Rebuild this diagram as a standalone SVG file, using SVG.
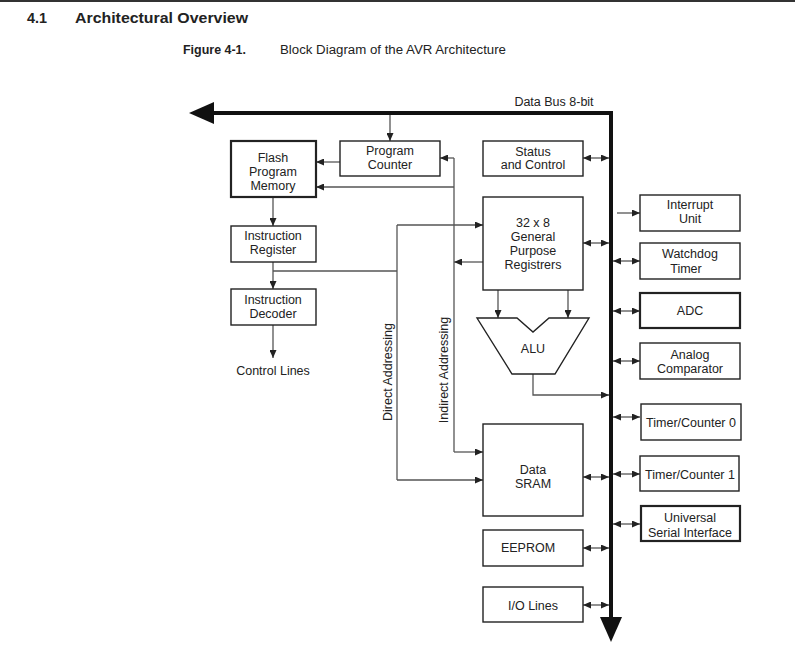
<svg xmlns="http://www.w3.org/2000/svg" width="795" height="649" viewBox="0 0 795 649">
<defs>
<style>
text{font-family:"Liberation Sans",Arial,sans-serif;font-size:12.5px;fill:#222;text-anchor:middle}
.box{fill:#fff;stroke:#222;stroke-width:1.4}
.thick{stroke-width:2.2}
.c{fill:none;stroke:#555;stroke-width:1.3}
.ah{marker-end:url(#a)}
.dh{marker-end:url(#a);marker-start:url(#a)}
</style>
<marker id="a" viewBox="0 0 8 7" refX="8" refY="3.5" markerWidth="8" markerHeight="7" markerUnits="userSpaceOnUse" orient="auto-start-reverse">
<path d="M0,0 L8,3.5 L0,7 z" fill="#222"/>
</marker>
</defs>
<rect width="795" height="649" fill="#fff"/>
<line x1="0" y1="1" x2="795" y2="1" stroke="#333" stroke-width="2"/>
<text x="27" y="23" style="font-size:15.5px;font-weight:bold;text-anchor:start" textLength="20" lengthAdjust="spacingAndGlyphs">4.1</text>
<text x="75" y="23" style="font-size:15.5px;font-weight:bold;text-anchor:start" textLength="173" lengthAdjust="spacingAndGlyphs">Architectural Overview</text>
<text x="183" y="54" style="font-weight:bold;text-anchor:start" textLength="63" lengthAdjust="spacingAndGlyphs">Figure 4-1.</text>
<text x="280" y="54" style="text-anchor:start" textLength="226" lengthAdjust="spacingAndGlyphs">Block Diagram of the AVR Architecture</text>

<g id="bus">
<polyline points="212,113 611,113 611,620" fill="none" stroke="#111" stroke-width="4"/>
<polygon points="189,113 214,102 214,124" fill="#111"/>
<polygon points="611,642 600,617 622,617" fill="#111"/>
<text x="554" y="106">Data Bus 8-bit</text>
</g>

<g id="connectors">
<line class="c ah" x1="390" y1="115" x2="390" y2="141"/>
<line class="c ah" x1="340" y1="162" x2="316" y2="162"/>
<line class="c ah" x1="483" y1="262" x2="454" y2="262"/>
<line class="c" x1="454" y1="158" x2="454" y2="452"/>
<line class="c ah" x1="454" y1="158" x2="440" y2="158"/>
<line class="c ah" x1="454" y1="187" x2="316" y2="187"/>
<line class="c ah" x1="454" y1="452" x2="483" y2="452"/>
<line class="c ah" x1="273" y1="197" x2="273" y2="226"/>
<line class="c ah" x1="273" y1="262" x2="273" y2="289"/>
<polyline class="c" points="273,271 397,271"/>
<line class="c" x1="397" y1="225" x2="397" y2="480"/>
<line class="c ah" x1="397" y1="225" x2="483" y2="225"/>
<line class="c ah" x1="397" y1="480" x2="483" y2="480"/>
<line class="c ah" x1="273" y1="325" x2="273" y2="358"/>
<line class="c dh" x1="583" y1="158" x2="609" y2="158"/>
<line class="c dh" x1="583" y1="243" x2="609" y2="243"/>
<line class="c ah" x1="498" y1="290" x2="498" y2="318"/>
<line class="c ah" x1="568" y1="290" x2="568" y2="318"/>
<polyline class="c ah" points="533,374 533,395 609,395"/>
<line class="c dh" x1="583" y1="477" x2="609" y2="477"/>
<line class="c dh" x1="583" y1="548" x2="609" y2="548"/>
<line class="c dh" x1="583" y1="605" x2="609" y2="605"/>
<line class="c ah" x1="617" y1="213" x2="640" y2="213"/>
<line class="c dh" x1="613" y1="261" x2="640" y2="261"/>
<line class="c dh" x1="613" y1="311" x2="640" y2="311"/>
<line class="c dh" x1="613" y1="361" x2="640" y2="361"/>
<line class="c dh" x1="613" y1="417" x2="640" y2="417"/>
<line class="c dh" x1="613" y1="474" x2="640" y2="474"/>
<line class="c dh" x1="613" y1="524" x2="640" y2="524"/>
<text x="392" y="372" transform="rotate(-90 392 372)">Direct Addressing</text>
<text x="448" y="370" transform="rotate(-90 448 370)">Indirect Addressing</text>
<text x="273" y="375">Control Lines</text>
</g>

<g id="program-counter"><rect class="box" x="340" y="141" width="100" height="35"/><text x="390" y="155">Program</text><text x="390" y="169">Counter</text></g>
<g id="flash"><rect class="box thick" x="231" y="141" width="85" height="56"/><text x="273" y="162">Flash</text><text x="273" y="176">Program</text><text x="273" y="190">Memory</text></g>
<g id="instruction-register"><rect class="box" x="231" y="226" width="85" height="36"/><text x="273" y="240">Instruction</text><text x="273" y="254">Register</text></g>
<g id="instruction-decoder"><rect class="box" x="231" y="289" width="85" height="36"/><text x="273" y="304">Instruction</text><text x="273" y="318">Decoder</text></g>
<g id="status"><rect class="box" x="483" y="141" width="100" height="35"/><text x="533" y="156">Status</text><text x="533" y="169">and Control</text></g>
<g id="registers"><rect class="box" x="483" y="197" width="100" height="93"/><text x="533" y="227">32 x 8</text><text x="533" y="241">General</text><text x="533" y="255">Purpose</text><text x="533" y="269">Registrers</text></g>
<g id="alu"><polygon class="box" points="477,318 517,318 533,332 549,318 589,318 555,374 512,374"/><text x="533" y="353">ALU</text></g>
<g id="sram"><rect class="box" x="483" y="424" width="100" height="92"/><text x="533" y="474">Data</text><text x="533" y="488">SRAM</text></g>
<g id="eeprom"><rect class="box" x="483" y="530" width="100" height="36"/><text x="528" y="552">EEPROM</text></g>
<g id="io-lines"><rect class="box" x="483" y="587" width="100" height="35"/><text x="533" y="610">I/O Lines</text></g>
<g id="interrupt"><rect class="box" x="640" y="195" width="100" height="36"/><text x="690" y="209">Interrupt</text><text x="690" y="223">Unit</text></g>
<g id="watchdog"><rect class="box" x="640" y="243" width="100" height="36"/><text x="690" y="258">Watchdog</text><text x="686" y="273">Timer</text></g>
<g id="adc"><rect class="box thick" x="640" y="293" width="100" height="35"/><text x="690" y="315">ADC</text></g>
<g id="comparator"><rect class="box" x="640" y="343" width="100" height="36"/><text x="690" y="359">Analog</text><text x="690" y="373">Comparator</text></g>
<g id="tc0"><rect class="box" x="641" y="404" width="100" height="36"/><text x="691" y="427">Timer/Counter 0</text></g>
<g id="tc1"><rect class="box" x="640" y="456" width="99" height="35"/><text x="690" y="479">Timer/Counter 1</text></g>
<g id="usi"><rect class="box thick" x="641" y="506" width="99" height="35"/><text x="690" y="522">Universal</text><text x="690" y="537">Serial Interface</text></g>
</svg>
